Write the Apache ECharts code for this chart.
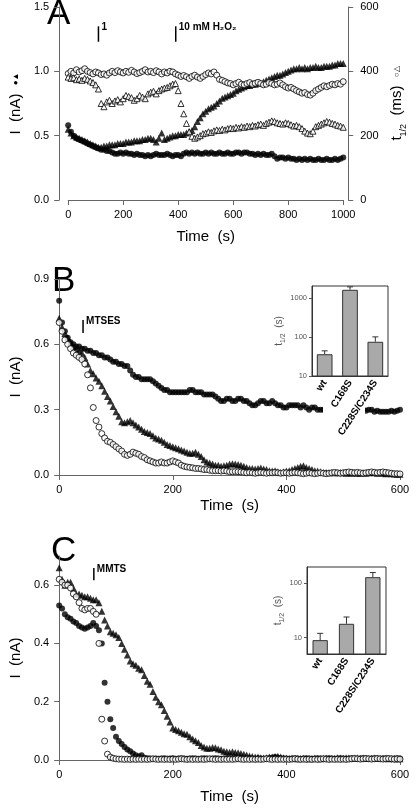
<!DOCTYPE html>
<html><head><meta charset="utf-8">
<script src="https://cdn.jsdelivr.net/npm/echarts@6/dist/echarts.min.js"></script>
<style>html,body{margin:0;padding:0;background:#fff}#c{width:416px;height:808px}</style>
</head><body><div id="c"></div>
<script>
// ---------- Panel A (t step 10 s, 0..1000) ----------
const tA = Array.from({length: 101}, (_, i) => i * 10);
const aCurrentCircle = [0.58,0.53,0.50,0.48,0.47,0.46,0.45,0.44,0.43,0.42,
 0.41,0.40,0.39,0.39,0.38,0.38,0.37,0.36,0.36,0.37,
 0.36,0.37,0.36,0.36,0.35,0.36,0.35,0.35,0.34,0.35,
 0.34,0.35,0.36,0.35,0.35,0.35,0.36,0.35,0.34,0.35,
 0.35,0.34,0.36,0.37,0.36,0.37,0.36,0.37,0.36,0.36,
 0.37,0.36,0.37,0.36,0.36,0.37,0.36,0.36,0.37,0.36,
 0.36,0.37,0.37,0.36,0.37,0.37,0.36,0.36,0.35,0.36,
 0.35,0.36,0.35,0.35,0.36,0.34,0.32,0.33,0.33,0.32,
 0.33,0.32,0.32,0.31,0.32,0.31,0.32,0.31,0.32,0.31,
 0.31,0.32,0.31,0.31,0.32,0.31,0.31,0.32,0.31,0.32,
 0.33];
const aCurrentTriangle = [0.55,0.52,0.50,0.49,0.48,0.47,0.46,0.45,0.44,0.43,
 0.42,0.41,0.41,0.42,0.42,0.43,0.43,0.43,0.44,0.44,
 0.44,0.45,0.45,0.45,0.46,0.46,0.46,0.47,0.47,0.48,
 0.48,0.47,0.45,0.48,0.52,0.47,0.48,0.49,0.50,0.50,
 0.51,0.51,0.51,0.52,0.53,0.54,0.57,0.61,0.64,0.67,
 0.69,0.71,0.72,0.73,0.75,0.77,0.79,0.80,0.81,0.82,
 0.83,0.85,0.86,0.87,0.88,0.89,0.89,0.90,0.90,0.91,
 0.91,0.92,0.93,0.94,0.95,0.96,0.97,0.97,0.98,0.99,
 1.00,1.01,1.02,1.02,1.03,1.02,1.03,1.02,1.03,1.03,
 1.04,1.03,1.03,1.04,1.04,1.04,1.05,1.05,1.06,1.06,
 1.06];
const aHalfCircle = [393,400,395,405,398,402,408,400,396,392,
 398,395,390,392,388,395,400,396,402,398,
 395,400,397,403,398,393,396,400,405,398,
 400,396,402,398,392,398,395,400,398,392,
 388,384,387,383,378,384,388,382,378,384,
 390,395,392,398,388,375,372,368,364,362,
 358,362,366,360,358,362,365,360,363,366,
 362,358,360,365,362,358,360,364,358,352,
 348,350,345,340,336,332,334,328,326,332,
 340,345,350,355,352,356,360,358,362,360,
 368];
const aHalfTriangle = [382,378,380,374,376,372,378,375,370,365,
 358,345,300,290,305,310,300,308,312,305,
 315,325,322,318,310,315,325,320,315,330,
 335,338,330,340,345,348,350,355,360,362,
 340,300,268,238,212,198,192,196,200,206,
 208,212,210,215,218,216,220,218,222,224,
 222,226,224,228,226,230,228,232,230,234,
 236,232,238,242,246,244,240,238,236,240,
 238,234,230,232,228,222,214,208,206,214,
 228,232,236,240,244,242,238,236,232,230,
 226];
const annotA = [[110, 1.23, 1.35, '1'], [391, 1.23, 1.35, '10 mM H\u2082O\u2082']];

// ---------- Panel B (t step 5 s, 0..600) ----------
const tB = Array.from({length: 121}, (_, i) => i * 5);
const bFilledCircle = [0.80,0.70,0.66,0.63,0.61,0.60,0.59,0.59,0.58,0.58,
 0.57,0.57,0.56,0.56,0.55,0.55,0.54,0.54,0.53,0.52,
 0.52,0.51,0.51,0.50,0.50,0.48,0.46,0.45,0.45,0.44,
 0.44,0.44,0.44,0.43,0.42,0.41,0.40,0.39,0.39,0.38,
 0.38,0.38,0.38,0.38,0.38,0.38,0.39,0.39,0.38,0.38,
 0.38,0.37,0.37,0.37,0.37,0.36,0.35,0.34,0.34,0.35,
 0.35,0.34,0.34,0.35,0.35,0.34,0.34,0.33,0.32,0.32,
 0.33,0.34,0.34,0.33,0.33,0.34,0.33,0.32,0.32,0.31,
 0.31,0.32,0.32,0.32,0.32,0.31,0.32,0.31,0.30,0.31,
 0.31,0.30,0.30,0.30,0.30,0.30,0.30,0.30,0.30,0.30,
 0.30,0.30,0.30,0.30,0.30,0.30,0.30,0.30,0.295,0.30,
 0.30,0.29,0.295,0.29,0.29,0.29,0.29,0.295,0.29,0.295,
 0.30];
const bFilledTriangle = [0.72,0.68,0.65,0.63,0.61,0.59,0.58,0.57,0.56,0.54,
 0.51,0.48,0.465,0.445,0.43,0.41,0.385,0.36,0.34,0.315,
 0.29,0.27,0.245,0.24,0.245,0.25,0.24,0.23,0.22,0.21,
 0.20,0.195,0.19,0.18,0.17,0.165,0.16,0.15,0.14,0.135,
 0.13,0.125,0.12,0.115,0.11,0.105,0.10,0.10,0.105,0.095,
 0.085,0.07,0.06,0.055,0.05,0.045,0.045,0.04,0.042,0.045,
 0.05,0.052,0.05,0.048,0.045,0.04,0.035,0.03,0.03,0.028,
 0.03,0.032,0.028,0.025,0.02,0.018,0.02,0.015,0.012,0.015,
 0.018,0.02,0.025,0.03,0.035,0.04,0.042,0.035,0.03,0.025,
 0.02,0.018,0.015,0.012,0.012,0.01,0.012,0.01,0.01,0.012,
 0.01,0.008,0.01,0.008,0.01,0.008,0.008,0.01,0.008,0.01,
 0.012,0.01,0.008,0.01,0.008,0.006,0.008,0.006,0.005,0.004,
 0.004];
const bOpenCircle = [0.70,0.66,0.62,0.60,0.58,0.56,0.55,0.54,0.53,0.51,
 0.46,0.40,0.31,0.25,0.22,0.19,0.17,0.155,0.15,0.14,
 0.13,0.12,0.11,0.095,0.09,0.095,0.105,0.10,0.095,0.085,
 0.08,0.07,0.065,0.06,0.055,0.055,0.06,0.055,0.055,0.06,
 0.065,0.06,0.055,0.045,0.04,0.037,0.035,0.033,0.03,0.03,
 0.028,0.025,0.025,0.022,0.02,0.02,0.02,0.018,0.02,0.018,
 0.015,0.015,0.016,0.015,0.014,0.012,0.01,0.012,0.01,0.008,
 0.01,0.012,0.01,0.008,0.01,0.01,0.012,0.01,0.008,0.01,
 0.01,0.008,0.01,0.012,0.01,0.008,0.006,0.008,0.01,0.008,
 0.006,0.008,0.01,0.008,0.006,0.008,0.01,0.012,0.01,0.008,
 0.01,0.012,0.014,0.012,0.01,0.012,0.01,0.008,0.01,0.012,
 0.014,0.012,0.01,0.012,0.014,0.012,0.01,0.008,0.006,0.006,
 0.005];
const annotB = [[42, 0.652, 0.712, 'MTSES']];
const insetCats = ['wt', 'C168S', 'C228S/C234S'];
const bInsetT = [36, 1600, 75];
const bInsetErr = [8, 300, 25];

// ---------- Panel C (t step 5 s, 0..600) ----------
const tC = Array.from({length: 121}, (_, i) => i * 5);
const cFilledTriangle = [0.66,0.62,0.60,0.61,0.61,0.59,0.57,0.57,0.565,0.56,
 0.56,0.555,0.55,0.55,0.54,0.51,0.48,0.46,0.44,0.435,
 0.43,0.42,0.40,0.38,0.36,0.34,0.33,0.325,0.315,0.31,
 0.29,0.27,0.26,0.235,0.215,0.20,0.19,0.17,0.15,0.13,
 0.11,0.105,0.10,0.095,0.09,0.088,0.08,0.072,0.066,0.06,
 0.05,0.045,0.04,0.04,0.043,0.042,0.038,0.035,0.03,0.028,
 0.027,0.028,0.026,0.025,0.022,0.02,0.017,0.014,0.012,0.01,
 0.01,0.008,0.007,0.008,0.01,0.01,0.012,0.013,0.01,0.008,
 0.006,0.005,0.006,0.005,0.004,0.005,0.006,0.005,0.004,0.005,
 0.006,0.005,0.004,0.006,0.007,0.006,0.005,0.006,0.008,0.007,
 0.006,0.008,0.007,0.006,0.007,0.008,0.006,0.007,0.006,0.005,
 0.006,0.007,0.006,0.005,0.006,0.005,0.004,0.005,0.004,0.004,
 0.004];
const cFilledCircle = [0.53,0.52,0.50,0.49,0.485,0.475,0.47,0.46,0.455,0.45,
 0.455,0.46,0.47,0.46,0.445,0.40,0.265,0.20,0.14,0.11,
 0.08,0.065,0.055,0.045,0.036,0.03,0.022,0.016,0.012,0.016,
 0.008,0.006,0.005,0.004,0.005,0.004,0.005,0.006,0.004,0.005,
 0.006,0.004,0.005,0.006,0.005,0.004,0.005,0.006,0.005,0.004,
 0.005,0.006,0.005,0.004,0.005,0.006,0.005,0.004,0.005,0.006,
 0.005,0.004,0.005,0.006,0.005,0.004,0.005,0.006,0.005,0.004,
 0.006,0.005,0.004,0.005,0.006,0.008,0.01,0.008,0.006,0.005,
 0.005,0.004,0.005,0.006,0.005,0.004,0.005,0.006,0.005,0.004,
 0.005,0.006,0.005,0.004,0.005,0.006,0.005,0.004,0.005,0.006,
 0.005,0.004,0.005,0.006,0.005,0.004,0.005,0.006,0.005,0.004,
 0.005,0.006,0.005,0.004,0.005,0.006,0.005,0.004,0.005,0.006,
 0.005];
const cOpenCircle = [0.62,0.61,0.60,0.60,0.59,0.57,0.56,0.54,0.52,0.515,
 0.52,0.52,0.51,0.50,0.40,0.14,0.065,0.02,0.01,0.006,
 0.004,0.003,0.003,0.002,0.003,0.002,0.003,0.002,0.003,0.002,
 0.003,0.002,0.003,0.004,0.003,0.002,0.003,0.002,0.003,0.002,
 0.003,0.002,0.003,0.004,0.003,0.002,0.003,0.002,0.003,0.002,
 0.003,0.002,0.003,0.004,0.003,0.002,0.003,0.002,0.003,0.002,
 0.003,0.002,0.003,0.004,0.003,0.002,0.003,0.002,0.003,0.002,
 0.003,0.002,0.003,0.004,0.003,0.002,0.003,0.002,0.003,0.002,
 0.003,0.002,0.003,0.004,0.003,0.002,0.003,0.002,0.003,0.002,
 0.003,0.002,0.003,0.004,0.003,0.002,0.003,0.002,0.003,0.002,
 0.003,0.002,0.003,0.004,0.005,0.004,0.003,0.004,0.005,0.004,
 0.003,0.004,0.005,0.004,0.003,0.004,0.005,0.004,0.003,0.004,
 0.003];
const annotC = [[61, 0.617, 0.659, 'MMTS']];
const cInsetT = [9, 18, 130];
const cInsetErr = [3, 6, 28];

// ---------- build ----------
const FONT = 'Liberation Sans, Arial, sans-serif';
const pairs = (t, v) => t.map((x, i) => [x, v[i]]);
function markers(xi, yi, data, shape, open, size) {
  return {
    type: 'scatter', xAxisIndex: xi, yAxisIndex: yi, data, symbol: shape, symbolSize: size,
    itemStyle: open ? {color: '#fff', borderColor: '#000', borderWidth: 1} : {color: '#000'},
    silent: true, z: open ? 3 : 2
  };
}
function annot(xi, yi, rows) {
  return {
    type: 'custom', xAxisIndex: xi, yAxisIndex: yi, silent: true, z: 6,
    data: rows.map(r => [r[0], r[1], r[2]]),
    renderItem: (params, api) => {
      const lo = api.coord([api.value(0), api.value(1)]);
      const hi = api.coord([api.value(0), api.value(2)]);
      return {type: 'group', children: [
        {type: 'line', shape: {x1: lo[0], y1: lo[1], x2: hi[0], y2: hi[1]}, style: {stroke: '#000', lineWidth: 1.5}},
        {type: 'text', x: hi[0] + 3, y: hi[1] - 4, style: {text: rows[params.dataIndex][3], font: 'bold 10px ' + FONT, fill: '#000', verticalAlign: 'top'}}
      ]};
    }
  };
}
function errBars(xi, yi, vals, errs) {
  return {
    type: 'custom', xAxisIndex: xi, yAxisIndex: yi, silent: true, z: 12,
    data: vals.map((v, i) => [i, v, v + errs[i]]),
    renderItem: (params, api) => {
      const b = api.coord([api.value(0), api.value(1)]);
      const t = api.coord([api.value(0), api.value(2)]);
      return {type: 'group', children: [
        {type: 'line', shape: {x1: b[0], y1: b[1], x2: t[0], y2: t[1]}, style: {stroke: '#333', lineWidth: 1}},
        {type: 'line', shape: {x1: t[0] - 3, y1: t[1], x2: t[0] + 3, y2: t[1]}, style: {stroke: '#333', lineWidth: 1}}
      ]};
    }
  };
}
const axisLineStyle = {show: true, onZero: false, lineStyle: {color: '#666', width: 1}};
const tickStyle = {show: true, inside: false, length: 5, lineStyle: {color: '#666'}};
function timeAxis(gi, max, gap) {
  return {
    type: 'value', gridIndex: gi, min: 0, max, interval: 200,
    axisLine: axisLineStyle, axisTick: tickStyle, splitLine: {show: false},
    axisLabel: {color: '#000', fontSize: 11, fontFamily: FONT, margin: 9, formatter: v => String(v)},
    name: 'Time  (s)', nameLocation: 'middle', nameGap: gap,
    nameTextStyle: {color: '#000', fontSize: 15, fontFamily: FONT}
  };
}
function currentAxis(gi, max, interval, name, gap, offset, custom) {
  const ax = {
    type: 'value', gridIndex: gi, min: 0, max, interval, offset: offset || 0,
    axisLine: axisLineStyle, axisTick: Object.assign({}, tickStyle),
    splitLine: {show: false},
    axisLabel: {color: '#000', fontSize: 11, fontFamily: FONT, margin: 10, formatter: v => v.toFixed(1)},
    name, nameLocation: 'middle', nameGap: gap, nameRotate: 90,
    nameTextStyle: {color: '#000', fontSize: 15, fontFamily: FONT, rich: {s: {fontSize: 8, color: '#000'}}}
  };
  if (custom) { ax.axisLabel.customValues = custom; ax.axisTick.customValues = custom; }
  return ax;
}
function insetX(gi) {
  return {
    type: 'category', gridIndex: gi, data: insetCats, z: 20,
    axisLine: {show: true, lineStyle: {color: '#333'}}, axisTick: {show: false},
    axisLabel: {interval: 0, rotate: 57, color: '#000', fontWeight: 'bold', fontSize: 10, fontFamily: FONT, margin: 5}
  };
}
function insetY(gi, min, max, labels) {
  return {
    type: 'log', gridIndex: gi, min, max, logBase: 10, z: 20,
    axisLine: {show: true, lineStyle: {color: '#333'}},
    axisTick: {show: true, length: 3, inside: false, customValues: labels, lineStyle: {color: '#555'}},
    splitLine: {show: false},
    axisLabel: {color: '#555', fontSize: 7.5, fontFamily: FONT, margin: 5, customValues: labels, formatter: v => String(Math.round(v))},
    name: '{a|t}{b|1/2}{a|  (s)}', nameLocation: 'middle', nameGap: 20, nameRotate: 90,
    nameTextStyle: {rich: {a: {fontSize: 10, color: '#555', fontFamily: FONT}, b: {fontSize: 7, color: '#555', fontFamily: FONT, verticalAlign: 'bottom', lineHeight: 14}}}
  };
}

const option = {
  animation: false,
  backgroundColor: '#fff',
  grid: [
    {left: 49, right: 55, top: 7, bottom: 608},
    {left: 48, right: 16, top: 279, bottom: 333},
    {left: 48, right: 16, top: 556, bottom: 48},
    {left: 312, top: 286, width: 76, height: 90, show: true, borderColor: '#333', borderWidth: 1, backgroundColor: '#fff', z: 10},
    {left: 307, top: 567, width: 79, height: 87, show: true, borderColor: '#333', borderWidth: 1, backgroundColor: '#fff', z: 10}
  ],
  xAxis: [timeAxis(0, 1000, 29), timeAxis(1, 600, 23), timeAxis(2, 600, 29), insetX(3), insetX(4)],
  yAxis: [
    currentAxis(0, 1.5, 0.5, 'I  (nA)  {s|\u25CF\u25B2}', 25, 9),
    Object.assign(currentAxis(0, 600, 200, '{t|t}{sub|1/2}  (ms)  {s|\u25CB\u25B3}', 31, 5), {
      position: 'right',
      axisLabel: {color: '#000', fontSize: 11, fontFamily: FONT, margin: 12},
      nameTextStyle: {color: '#000', fontSize: 15, fontFamily: FONT, rich: {
        t: {fontSize: 15, fontFamily: FONT, color: '#000'},
        sub: {fontSize: 9, fontFamily: FONT, color: '#000', verticalAlign: 'bottom', lineHeight: 22},
        s: {fontSize: 8, color: '#000'}}}
    }),
    currentAxis(1, 0.9, 0.3, 'I  (nA)', 30),
    currentAxis(2, 0.7, 0.2, 'I  (nA)', 30, 0, [0, 0.2, 0.4, 0.6]),
    insetY(3, 10, 2000, [10, 100, 1000]),
    insetY(4, 5, 200, [10, 100])
  ],
  graphic: [
    {type: 'text', left: 47, top: -3, style: {text: 'A', font: '35px ' + FONT, fill: '#000'}},
    {type: 'text', left: 52, top: 264, style: {text: 'B', font: '35px ' + FONT, fill: '#000'}},
    {type: 'text', left: 51, top: 534, style: {text: 'C', font: '35px ' + FONT, fill: '#000'}},
    {type: 'rect', shape: {x: 323, y: 380, width: 42, height: 62}, style: {fill: '#fff'}, z: 8}
  ],
  series: [
    markers(0, 0, pairs(tA, aCurrentCircle), 'circle', false, 6),
    markers(0, 0, pairs(tA, aCurrentTriangle), 'triangle', false, 7),
    markers(0, 1, pairs(tA, aHalfCircle), 'circle', true, 6),
    markers(0, 1, pairs(tA, aHalfTriangle), 'triangle', true, 6),
    annot(0, 0, annotA),
    markers(1, 2, pairs(tB, bFilledCircle), 'circle', false, 6),
    markers(1, 2, pairs(tB, bFilledTriangle), 'triangle', false, 7),
    markers(1, 2, pairs(tB, bOpenCircle), 'circle', true, 6),
    annot(1, 2, annotB),
    markers(2, 3, pairs(tC, cFilledCircle), 'circle', false, 6),
    markers(2, 3, pairs(tC, cFilledTriangle), 'triangle', false, 7),
    markers(2, 3, pairs(tC, cOpenCircle), 'circle', true, 6),
    annot(2, 3, annotC),
    {type: 'bar', xAxisIndex: 3, yAxisIndex: 4, data: bInsetT, barWidth: '62%', silent: true, z: 11,
     itemStyle: {color: '#a9a9a9', borderColor: '#333', borderWidth: 1}},
    errBars(3, 4, bInsetT, bInsetErr),
    {type: 'bar', xAxisIndex: 4, yAxisIndex: 5, data: cInsetT, barWidth: '58%', silent: true, z: 11,
     itemStyle: {color: '#a9a9a9', borderColor: '#333', borderWidth: 1}},
    errBars(4, 5, cInsetT, cInsetErr)
  ]
};
const chart = echarts.init(document.getElementById('c'), null, {renderer: 'canvas'});
chart.setOption(option);
</script></body></html>
